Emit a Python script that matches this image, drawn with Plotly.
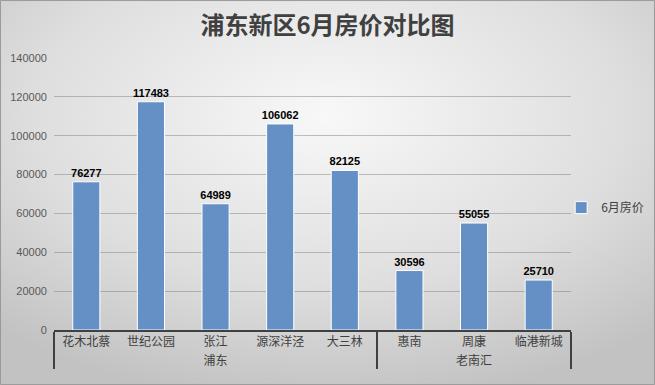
import plotly.graph_objects as go
import base64

groups = ["浦东", "浦东", "浦东", "浦东", "浦东", "老南汇", "老南汇", "老南汇"]
areas = ["花木北蔡", "世纪公园", "张江", "源深洋泾", "大三林", "惠南", "周康", "临港新城"]
prices = [76277, 117483, 64989, 106062, 82125, 30596, 55055, 25710]
series_name = "6月房价"
title_text = "浦东新区6月房价对比图"

W, H = 655, 385
ML, MR, MT, MB = 54, 84, 58, 55
PW, PH = W - ML - MR, H - MT - MB

svg = ('<svg xmlns="http://www.w3.org/2000/svg" width="655" height="385">'
       '<defs><radialGradient id="g" cx="50%" cy="30%" r="75%">'
       '<stop offset="0" stop-color="#f8f8f8"/><stop offset="0.6" stop-color="#dedede"/>'
       '<stop offset="1" stop-color="#c2c2c2"/></radialGradient></defs>'
       '<rect width="655" height="385" fill="url(#g)"/></svg>')
bg = "data:image/svg+xml;base64," + base64.b64encode(svg.encode()).decode()

fig = go.Figure()
fig.add_trace(go.Bar(
    x=[groups, areas], y=prices, name=series_name,
    marker=dict(color="#6590c5", line=dict(color="#ffffff", width=1)),
    width=0.42,
    text=[str(v) for v in prices], textposition="outside", constraintext="none",
    textfont=dict(family="Liberation Sans, Arial", size=11, color="#000000", weight="bold"),
    cliponaxis=False, showlegend=True,
))

fig.update_layout(
    width=W, height=H,
    margin=dict(l=ML, r=MR, t=MT, b=MB, autoexpand=False),
    paper_bgcolor="#dedede", plot_bgcolor="rgba(0,0,0,0)",
    images=[dict(source=bg, xref="paper", yref="paper", x=-ML / PW, y=1 + MT / PH,
                 sizex=W / PW, sizey=H / PH, xanchor="left", yanchor="top",
                 sizing="stretch", layer="below")],
    title=dict(text=title_text, x=0.5, xanchor="center", y=1 - 26 / H, yanchor="middle",
               font=dict(family="Noto Sans CJK SC", size=24, color="#404040", weight="bold")),
    font=dict(family="Noto Sans CJK SC, Liberation Sans", size=11, color="#595959"),
    xaxis=dict(type="multicategory", showline=True, linecolor="#404040", linewidth=2,
               showdividers=True, dividercolor="#404040", dividerwidth=2,
               tickfont=dict(size=12, color="#404040"), ticks="",
               automargin=False),
    yaxis=dict(range=[0, 140000], dtick=20000, tickformat="d", showgrid=True,
               gridcolor="rgba(120,120,120,0.45)", gridwidth=1, zeroline=False, showline=False,
               tickfont=dict(family="Liberation Sans, Arial", size=11, color="#595959"),
               ticksuffix="  ", automargin=False),
    legend=dict(x=0.981, y=0.45, xanchor="left", yanchor="middle", bgcolor="rgba(0,0,0,0)",
                font=dict(size=12, color="#404040"), itemwidth=30),
    bargap=0.5,
    shapes=[dict(type="rect", xref="paper", yref="paper", x0=-ML / PW + 0.001, x1=1 + MR / PW - 0.001,
                 y0=-MB / PH + 0.002, y1=1 + MT / PH - 0.002, line=dict(color="#9a9a9a", width=1))],
)

fig.write_html("out.html", config={"displayModeBar": False},
               post_script="document.body.style.margin='0';")
